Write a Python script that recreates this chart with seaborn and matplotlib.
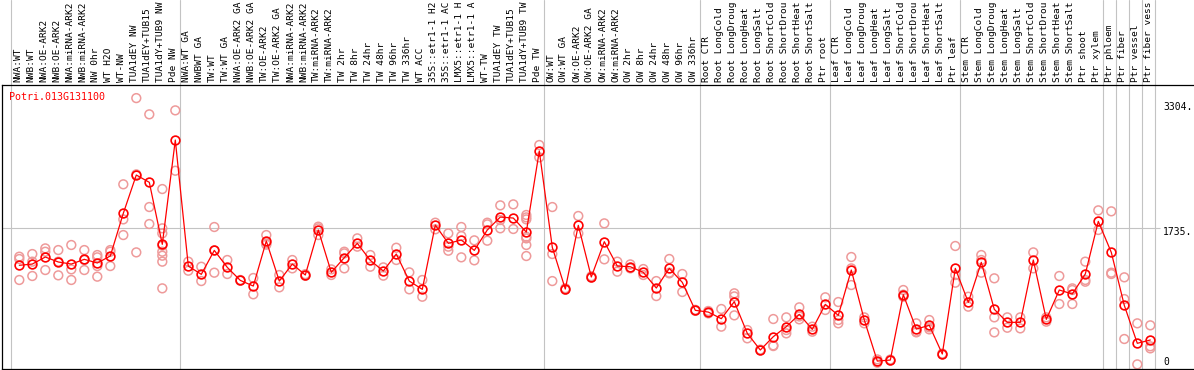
import matplotlib
matplotlib.use('Agg')
import matplotlib.pyplot as plt
import matplotlib.transforms as mtransforms
import seaborn as sns
import pandas as pd

gene = 'Potri.013G131100'

# sample names as far as they show in the header strip
labels = ['NWA:WT', 'NWB:WT', 'NWA:OE-ARK2', 'NWB:OE-ARK2', 'NWA:miRNA-ARK2',
          'NWB:miRNA-ARK2', 'NW 0hr', 'WT H2O', 'WT-NW', 'TUA1dEY NW',
          'TUA1dEY+TUB15', 'TUA1dY+TUB9 NW', 'Pde NW',
          'NWA:WT GA', 'NWBWT GA', 'TW:WT', 'TW:WT GA', 'NWA:OE-ARK2 GA',
          'NWB:OE-ARK2 GA', 'TW:OE-ARK2', 'TW:OE-ARK2 GA', 'NWA:miRNA-ARK2',
          'NWB:miRNA-ARK2', 'TW:miRNA-ARK2', 'TW:miRNA-ARK2', 'TW 2hr', 'TW 8hr',
          'TW 24hr', 'TW 48hr', 'TW 96hr', 'TW 336hr', 'WT ACC',
          '35S::etr1-1 H2', '35S::etr1-1 AC', 'LMX5::etr1-1 H',
          'LMX5::etr1-1 A', 'WT-TW', 'TUA1dEY TW', 'TUA1dEY+TUB15',
          'TUA1dY+TUB9 TW', 'Pde TW',
          'OW:WT', 'OW:WT GA', 'OW:OE-ARK2', 'OW:OE-ARK2 GA', 'OW:miRNA-ARK2',
          'OW:miRNA-ARK2', 'OW 2hr', 'OW 8hr', 'OW 24hr', 'OW 48hr', 'OW 96hr',
          'OW 336hr',
          'Root CTR', 'Root LongCold', 'Root LongDroug', 'Root LongHeat',
          'Root LongSalt', 'Root ShortCold', 'Root ShortDrou',
          'Root ShortHeat', 'Root ShortSalt', 'Ptr root',
          'Leaf CTR', 'Leaf LongCold', 'Leaf LongDroug', 'Leaf LongHeat',
          'Leaf LongSalt', 'Leaf ShortCold', 'Leaf ShortDrou',
          'Leaf ShortHeat', 'Leaf ShortSalt', 'Ptr leaf',
          'Stem CTR', 'Stem LongCold', 'Stem LongDroug', 'Stem LongHeat',
          'Stem LongSalt', 'Stem ShortCold', 'Stem ShortDrou',
          'Stem ShortHeat', 'Stem ShortSalt', 'Ptr shoot',
          'Ptr xylem', 'Ptr phloem', 'Ptr fiber', 'Ptr vessel', 'Ptr fiber vess']

means = [1287, 1302, 1387, 1327, 1302, 1359, 1315, 1399, 1914, 2376,
         2288, 1540, 2798, 1278, 1178, 1467, 1262, 1105, 1037, 1580,
         1097, 1302, 1170, 1713, 1202, 1379, 1552, 1347, 1218, 1423,
         1097, 997, 1773, 1552, 1592, 1467, 1713, 1869, 1857, 1688,
         2666, 1504, 1001, 1769, 1146, 1572, 1278, 1270, 1202, 1013,
         1250, 1081, 744, 723, 643, 848, 466, 265, 426, 547,
         695, 514, 816, 683, 1230, 627, 132, 144, 933, 518,
         563, 217, 1250, 840, 1323, 756, 599, 599, 1351, 635,
         989, 941, 1182, 1817, 1443, 804, 346, 386]

replicates = [
    [1391, 1363, 1110], [1423, 1331, 1158], [1491, 1451, 1230], [1471, 1331, 1166],
    [1532, 1238, 1110], [1471, 1351, 1230], [1411, 1383, 1278, 1150], [1471, 1451, 1278],
    [2264, 1841, 1652], [3304, 2384, 1443], [3108, 1990, 1785],
    [2207, 1733, 1672, 1524, 1451, 1403, 1331, 1009], [3156, 2428],
    [1331, 1222], [1270, 1097], [1749, 1467, 1198], [1351, 1182], [1110, 1101],
    [1134, 937], [1652, 1552, 1536], [1170, 1021], [1351, 1250], [1180, 1160],
    [1753, 1733, 1652], [1238, 1170], [1451, 1431, 1250], [1612, 1512],
    [1411, 1270], [1262, 1162], [1499, 1351], [1202, 997], [1110, 908],
    [1801, 1721], [1672, 1512, 1463], [1749, 1640, 1383], [1588, 1347],
    [1801, 1781, 1584], [2010, 1833, 1733], [2022, 1725],
    [1894, 1865, 1841, 1632, 1612, 1532, 1399], [2738, 2589],
    [1990, 1423, 1097], [1010, 992], [1882, 1672], [1155, 1138], [1793, 1359],
    [1331, 1210], [1298, 1250], [1242, 1170], [1097, 916], [1363, 1198, 1190],
    [1182, 965], [750, 738],
    [736, 707], [760, 547], [949, 912, 683], [506, 406], [270, 260],
    [639, 321, 313], [659, 506, 466], [780, 670, 635], [547, 486], [901, 748],
    [844, 627, 587], [1387, 1250, 1049], [659, 587], [152, 112], [150, 138],
    [989, 933, 908], [587, 486, 478], [627, 539, 514], [222, 212],
    [1520, 1170, 1077],
    [908, 788], [1411, 1351, 1198], [1130, 659, 478], [659, 534], [659, 526],
    [1443, 1250], [659, 607], [1158, 820], [1009, 989, 820], [1331, 1110, 1089],
    [1950, 1713], [1938, 1198, 1182], [1142, 880, 398], [587, 92], [563, 310, 285],
]

# first sample of each block (grey separators)
group_starts = [0, 13, 41, 53, 63, 73, 84, 85, 86, 87, 88]
axis_marks = [3304, 1735, 0]

mean_df = pd.DataFrame({'idx': range(len(means)), 'value': means})
rep_df = pd.DataFrame([(i, v) for i, vals in enumerate(replicates) for v in vals],
                      columns=['idx', 'value'])

sns.set_style('white')
plt.rcParams['font.family'] = ['DejaVu Sans Mono']

W, H = 1194, 370
fig = plt.figure(figsize=(W / 100, H / 100), dpi=100)
ax = fig.add_axes([1.5 / W, 1 / H, 1192.5 / W, 284 / H])

px0, step = 19.3, 13.0
ax.set_xlim((1.5 - px0) / step, (W - px0) / step)
zero_px, scale = 372.0, 0.0829
ax.set_ylim((zero_px - 369) / scale, (zero_px - 85) / scale)

grey = '#c3c3c3'
for g in group_starts:
    ax.axvline(g - 0.62, ymin=0, ymax=1 + 85 / 284, color=grey, lw=0.8,
               clip_on=False, zorder=0)
ax.hlines(axis_marks[1], ax.get_xlim()[0], (1160 - px0) / step, color=grey,
          lw=0.8, zorder=0)

sns.scatterplot(data=rep_df, x='idx', y='value', ax=ax, marker='o', s=40,
                facecolor='none', edgecolor='#ee9a9a', linewidth=1.1, zorder=2)
sns.lineplot(data=mean_df, x='idx', y='value', ax=ax, color='red', lw=0.9,
             marker='o', ms=6.3, markerfacecolor='none', markeredgecolor='red',
             markeredgewidth=1.2, errorbar=None, zorder=3)

ax.set_xticks([])
ax.set_yticks([])
ax.set_xlabel('')
ax.set_ylabel('')
for side in ['top', 'bottom', 'left']:
    ax.spines[side].set_color('black')
    ax.spines[side].set_linewidth(0.9)
ax.spines['right'].set_visible(False)

lab_tr = mtransforms.blended_transform_factory(ax.transData, ax.transAxes)
for i, lab in enumerate(labels):
    ax.text(i - 0.12, 1 + 3 / 284, lab, transform=lab_tr, rotation=90,
            rotation_mode='anchor', ha='left', va='center', fontsize=6.8,
            color='black', clip_on=False)

ax.text(7.8 / 1192.5, 1 - 11.7 / 284, gene, transform=ax.transAxes,
        color='red', fontsize=7.2, ha='left', va='center')

mark_tr = mtransforms.blended_transform_factory(ax.transAxes, ax.transData)
offsets = [-6.6, -3.0, 7.4]
for v, off in zip(axis_marks, offsets):
    txt = f'{v}.' if v else '0'
    ax.annotate(txt, xy=((1163 - 1.5) / 1192.5, v), xycoords=mark_tr,
                xytext=(0, off), textcoords='offset points', ha='left',
                va='center', fontsize=7, color='black', annotation_clip=False)

fig.savefig('out.png', dpi=100)
